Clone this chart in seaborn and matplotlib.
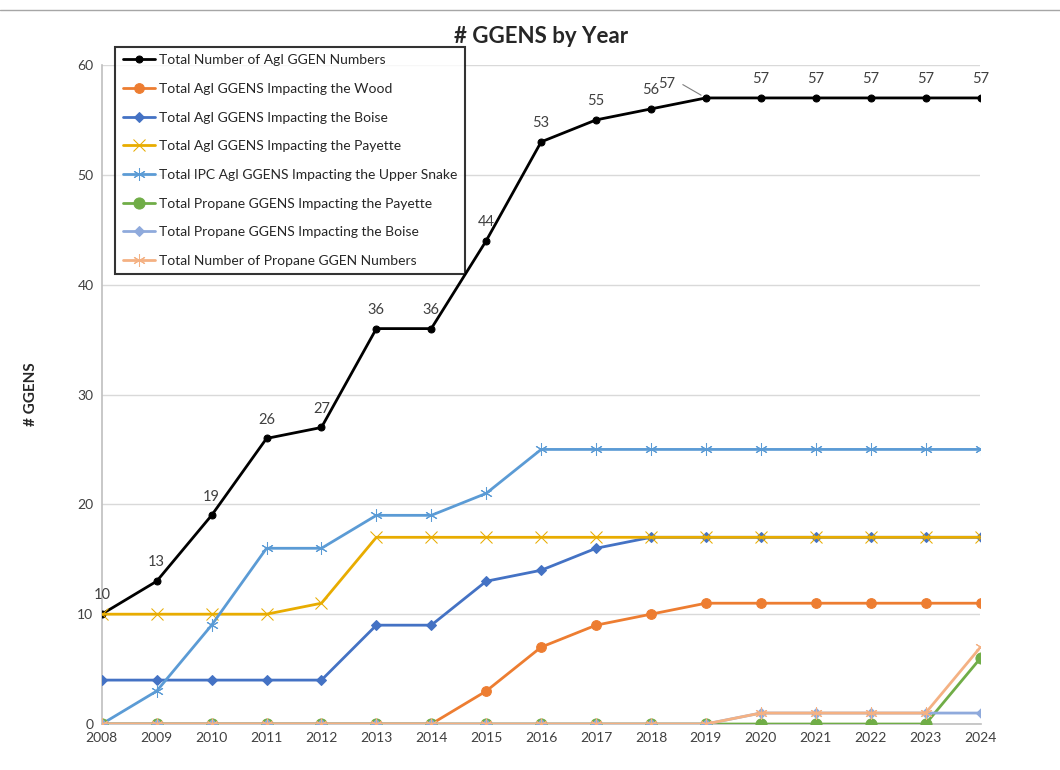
import numpy as np
import pandas as pd
import matplotlib
matplotlib.use("Agg")
import matplotlib.pyplot as plt
import seaborn as sns

years = list(range(2008, 2025))

total_agi = [10, 13, 19, 26, 27, 36, 36, 44, 53, 55, 56, 57, 57, 57, 57, 57, 57]
agi_wood = [0, 0, 0, 0, 0, 0, 0, 3, 7, 9, 10, 11, 11, 11, 11, 11, 11]
agi_boise = [4, 4, 4, 4, 4, 9, 9, 13, 14, 16, 17, 17, 17, 17, 17, 17, 17]
agi_payette = [10, 10, 10, 10, 11, 17, 17, 17, 17, 17, 17, 17, 17, 17, 17, 17, 17]
ipc_upper_snake = [0, 3, 9, 16, 16, 19, 19, 21, 25, 25, 25, 25, 25, 25, 25, 25, 25]
propane_payette = [0, 0, 0, 0, 0, 0, 0, 0, 0, 0, 0, 0, 0, 0, 0, 0, 6]
propane_boise = [0, 0, 0, 0, 0, 0, 0, 0, 0, 0, 0, 0, 1, 1, 1, 1, 1]
total_propane = [0, 0, 0, 0, 0, 0, 0, 0, 0, 0, 0, 0, 1, 1, 1, 1, 7]

series_names = [
    "Total Number of AgI GGEN Numbers",
    "Total AgI GGENS Impacting the Wood",
    "Total AgI GGENS Impacting the Boise",
    "Total AgI GGENS Impacting the Payette",
    "Total IPC AgI GGENS Impacting the Upper Snake",
    "Total Propane GGENS Impacting the Payette",
    "Total Propane GGENS Impacting the Boise",
    "Total Number of Propane GGEN Numbers",
]
series_values = [total_agi, agi_wood, agi_boise, agi_payette, ipc_upper_snake,
                 propane_payette, propane_boise, total_propane]

# style for each series: colour, marker, marker size
styles = [
    ("#000000", "o", 5),
    ("#ED7D31", "o", 7),
    ("#4472C4", "D", 5),
    ("#E8AC00", "x", 8),
    ("#5B9BD5", (6, 2, 0), 9),
    ("#70AD47", "o", 8),
    ("#8FAADC", "D", 5),
    ("#F4B183", (6, 2, 0), 9),
]

sns.set_style("white")
plt.rcParams["font.family"] = ["Lato", "DejaVu Sans"]

fig = plt.figure(figsize=(10.6, 7.7), dpi=100)
ax = fig.add_axes([0.096, 0.0597, 0.829, 0.8559])

for name, vals, (col, mk, ms) in zip(series_names, series_values, styles):
    df = pd.DataFrame({"year": years, "value": vals})
    sns.lineplot(data=df, x="year", y="value", ax=ax, color=col, marker=mk,
                 markersize=ms, markeredgecolor=col, markerfacecolor=col,
                 linewidth=2.0, label=name, zorder=3)

# data labels on the black series
for yr, v in zip(years, total_agi):
    if yr == 2019:
        ax.annotate(str(v), xy=(yr, v), xytext=(yr - 0.71, v + 1.3),
                    ha="center", va="center", fontsize=10.5, color="#404040",
                    arrowprops=dict(arrowstyle="-", color="#7f7f7f", lw=0.8,
                                    shrinkA=3, shrinkB=4,
                                    connectionstyle="angle,angleA=0,angleB=150"))
    else:
        ax.annotate(str(v), xy=(yr, v), xytext=(0, 13.5), textcoords="offset points",
                    ha="center", va="center", fontsize=10.5, color="#404040")

ax.set_xlim(2008, 2024)
ax.set_ylim(0, 60)
ax.set_xticks(years)
ax.set_yticks(range(0, 61, 10))
ax.tick_params(axis="both", length=0, labelsize=10, labelcolor="#404040", pad=6)
ax.grid(axis="y", color="#D9D9D9", linewidth=1)
ax.set_axisbelow(True)
for s in ["top", "right"]:
    ax.spines[s].set_visible(False)
ax.spines["left"].set_color("#BFBFBF")
ax.spines["bottom"].set_color("#BFBFBF")
ax.spines["left"].set_linewidth(1.2)
ax.spines["bottom"].set_linewidth(1.2)

ax.set_xlabel("")
ax.set_ylabel("# GGENS", fontsize=11, fontweight="bold", labelpad=28)
ax.set_title("# GGENS by Year", fontsize=16, fontweight="bold", pad=16)

leg = ax.legend(loc="upper left", bbox_to_anchor=(0.015, 1.028), borderaxespad=0,
                frameon=True, fancybox=False, fontsize=10, handlelength=2.3,
                labelspacing=1.2, handletextpad=0.3, borderpad=0.55)
leg.get_frame().set_edgecolor("black")
leg.get_frame().set_linewidth(1.5)
leg.set_zorder(5)

fig.add_artist(plt.Line2D([0, 1], [0.987, 0.987], color="#A6A6A6", lw=1))

fig.savefig("out.png", dpi=100, facecolor="white")
